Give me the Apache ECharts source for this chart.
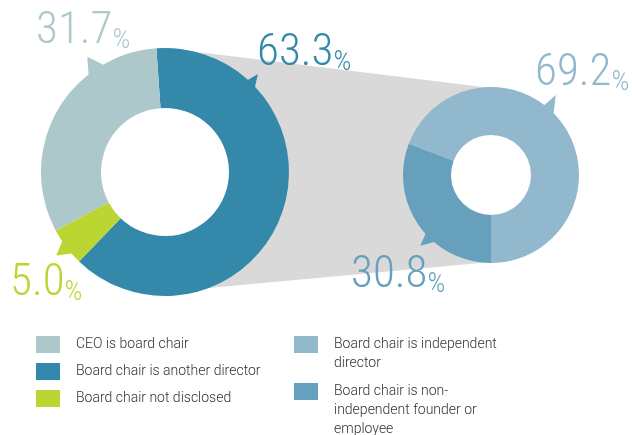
<!DOCTYPE html>
<html lang="en">
<head>
<meta charset="UTF-8">
<title>Board chair</title>
<style>html,body{margin:0;padding:0;background:#fff}</style>
</head>
<body>
<div id="chart" style="width:632px;height:435px"></div>
<script src="https://cdn.jsdelivr.net/npm/echarts@6/dist/echarts.min.js"></script>
<script>
// left donut: who chairs the board (clockwise from just left of 12 o'clock)
var leftNames = ['Board chair is another director', 'Board chair not disclosed', 'CEO is board chair'];
var leftValues = [63.3, 5.0, 31.7];
var leftColors = ['#3489ab', '#bbd632', '#adc8cb'];

// right donut: split of the "another director" group (clockwise from 6 o'clock)
var rightNames = ['Board chair is non-independent founder or employee', 'Board chair is independent director'];
var rightValues = [30.8, 69.2];
var rightColors = ['#66a0bd', '#92b8cd'];

// legend text, wrapped like the original
var legendText = {
    'Board chair is independent director': '\nBoard chair is independent\ndirector',
    'Board chair is non-independent founder or employee': '\n\nBoard chair is non-\nindependent founder or\nemployee'
};

var NUM_FONT = "'Noto Sans Condensed Light', 'Noto Sans Condensed', 'Noto Sans ExtraCondensed Light', 'Roboto Condensed', 'Liberation Sans Narrow', serif";
var TXT_FONT = "Roboto, 'Liberation Sans', sans-serif";

// donut geometry
var C1 = [165, 172], R1 = [64, 124];
var C2 = [491, 175], R2 = [40, 88];

// where each value label sits: [left x, baseline y]
var leftLabelPos = [[257, 68], [10, 298], [36, 46]];
var rightLabelPos = [[351, 290], [535, 88]];
var LABEL_BASE = 36.5;

// little pointer tails: [base angle a, base angle b, tip angle, tip length]
var leftTails = [[48.5, 42.5, 46.5, 11], [213, 222, 217.5, 13], [129, 119, 124, 15]];
var rightTails = [[221, 231, 225, 12], [53, 43, 51, 15]];

function pt(c, r, deg) {
    var a = deg * Math.PI / 180;
    return [c[0] + r * Math.cos(a), c[1] - r * Math.sin(a)];
}

function tailShapes(c, r, tails, colors) {
    return tails.map(function (t, i) {
        return {
            type: 'polygon',
            z: 1,
            shape: {points: [pt(c, r - 3, t[0]), pt(c, r + t[3], t[2]), pt(c, r - 3, t[1])]},
            style: {fill: colors[i]}
        };
    });
}

function hole(c, r) {
    return {type: 'circle', z: 2, shape: {cx: c[0], cy: c[1], r: r + 1}, style: {fill: '#fff'}};
}

function pieData(names, values, colors) {
    return names.map(function (n, i) {
        return {name: n, value: values[i], itemStyle: {color: colors[i]}, label: {color: colors[i]}};
    });
}

function pieLabel() {
    return {
        show: true,
        position: 'outside',
        width: 140,
        overflow: 'none',
        formatter: function (p) {
            return '{v|' + p.value.toFixed(1) + '}{p|%}';
        },
        rich: {
            v: {fontSize: 45, lineHeight: 45, fontFamily: NUM_FONT, fontWeight: 300},
            p: {fontSize: 28, lineHeight: 34, verticalAlign: 'bottom', fontFamily: NUM_FONT, fontWeight: 300}
        }
    };
}

var myChart = echarts.init(document.getElementById('chart'));

var legendBase = {
    orient: 'vertical',
    padding: 0,
    icon: 'rect',
    itemWidth: 24,
    itemHeight: 17,
    itemGap: 8,
    selectedMode: false,
    textStyle: {fontFamily: TXT_FONT, fontWeight: 300, fontSize: 14, color: '#333', lineHeight: 19, padding: [0, 0, 0, 11]},
    formatter: function (name) {
        return legendText[name] || name;
    }
};

var option = {
    animation: false,
    legend: [
        Object.assign({}, legendBase, {left: 36, top: 335,
            data: ['CEO is board chair', 'Board chair is another director', 'Board chair not disclosed']}),
        Object.assign({}, legendBase, {left: 294, top: 316,
            data: ['Board chair is independent director']}),
        Object.assign({}, legendBase, {left: 294, top: 344,
            data: ['Board chair is non-independent founder or employee']})
    ],
    graphic: [
        {
            type: 'polygon',
            z: 0,
            shape: {points: [
                [C1[0], C1[1] - R1[1]],
                [C2[0], C2[1] - R2[1] + 1],
                [C2[0], C2[1] + R2[1] - 1],
                [C1[0], C1[1] + R1[1] - 4]
            ]},
            style: {fill: '#d9d9d9'}
        },
        hole(C1, R1[0]),
        hole(C2, R2[0])
    ].concat(tailShapes(C1, R1[1], leftTails, leftColors))
     .concat(tailShapes(C2, R2[1], rightTails, rightColors)),
    series: [
        {
            type: 'pie',
            z: 3,
            center: C1,
            radius: R1,
            startAngle: 94,
            clockwise: true,
            silent: true,
            labelLine: {show: false},
            label: pieLabel(),
            labelLayout: function (p) {
                var pos = leftLabelPos[p.dataIndex];
                return {x: pos[0], y: pos[1] - LABEL_BASE, align: 'left', verticalAlign: 'top', hideOverlap: false};
            },
            data: pieData(leftNames, leftValues, leftColors)
        },
        {
            type: 'pie',
            z: 3,
            center: C2,
            radius: R2,
            startAngle: 270,
            clockwise: true,
            silent: true,
            labelLine: {show: false},
            label: pieLabel(),
            labelLayout: function (p) {
                var pos = rightLabelPos[p.dataIndex];
                return {x: pos[0], y: pos[1] - LABEL_BASE, align: 'left', verticalAlign: 'top', hideOverlap: false};
            },
            data: pieData(rightNames, rightValues, rightColors)
        }
    ]
};

myChart.setOption(option);
</script>
</body>
</html>
